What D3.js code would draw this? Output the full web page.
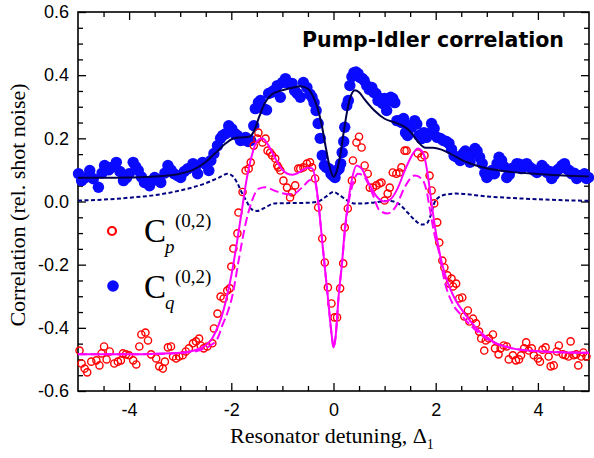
<!DOCTYPE html>
<html>
<head>
<meta charset="utf-8">
<script src="https://cdn.jsdelivr.net/npm/d3@7"></script>
<style>
  body { margin: 0; background: #fff; }
</style>
</head>
<body>
<div id="chart"></div>
<script>
var margin = { top: 12, right: 5, bottom: 67, left: 78 };
var width = 594 - margin.left - margin.right;
var height = 458 - margin.top - margin.bottom;

var xTicks = [-4, -2, 0, 2, 4];
var xTickLabels = ['-4', '-2', '0', '2', '4'];
var yTicks = [-0.6, -0.4, -0.2, 0, 0.2, 0.4, 0.6];
var yTickLabels = ['-0.6', '-0.4', '-0.2', '0.0', '0.2', '0.4', '0.6'];

// C_q^(0,2) measured points [detuning, correlation]
var cqPoints = [
  [-4.99, 0.088], [-4.93, 0.066], [-4.86, 0.075], [-4.77, 0.098], [-4.70, 0.072], [-4.60, 0.045],
  [-4.53, 0.090], [-4.48, 0.114], [-4.40, 0.100], [-4.35, 0.108], [-4.25, 0.124], [-4.18, 0.095],
  [-4.11, 0.066], [-4.05, 0.075], [-4.00, 0.088], [-3.92, 0.124], [-3.87, 0.110], [-3.82, 0.098],
  [-3.76, 0.078], [-3.70, 0.060], [-3.60, 0.050], [-3.55, 0.065], [-3.50, 0.076], [-3.44, 0.070],
  [-3.38, 0.060], [-3.30, 0.090], [-3.24, 0.114], [-3.18, 0.100], [-3.12, 0.088], [-3.05, 0.082],
  [-2.99, 0.076], [-2.92, 0.095], [-2.85, 0.104], [-2.75, 0.120], [-2.70, 0.110], [-2.66, 0.088],
  [-2.56, 0.124], [-2.50, 0.118], [-2.44, 0.098], [-2.40, 0.130], [-2.34, 0.152], [-2.27, 0.177],
  [-2.21, 0.200], [-2.17, 0.209], [-2.11, 0.215], [-2.05, 0.240], [-1.99, 0.230], [-1.93, 0.215],
  [-1.88, 0.209], [-1.82, 0.193], [-1.76, 0.195], [-1.72, 0.203], [-1.67, 0.190], [-1.62, 0.193],
  [-1.56, 0.240], [-1.53, 0.294], [-1.47, 0.313], [-1.43, 0.320], [-1.37, 0.294], [-1.31, 0.290],
  [-1.27, 0.342], [-1.22, 0.345], [-1.17, 0.351], [-1.10, 0.367], [-1.04, 0.330], [-1.00, 0.377],
  [-0.94, 0.389], [-0.88, 0.374], [-0.81, 0.374], [-0.76, 0.351], [-0.71, 0.342], [-0.65, 0.330],
  [-0.59, 0.377], [-0.52, 0.361], [-0.46, 0.340], [-0.42, 0.330], [-0.38, 0.313], [-0.34, 0.288],
  [-0.30, 0.247], [-0.26, 0.200], [-0.22, 0.146], [-0.18, 0.114], [-0.14, 0.108], [-0.09, 0.104],
  [-0.05, 0.088], [-0.01, 0.082], [0.03, 0.076], [0.07, 0.098], [0.11, 0.104], [0.14, 0.120],
  [0.17, 0.155], [0.20, 0.190], [0.22, 0.235], [0.26, 0.304], [0.29, 0.320], [0.32, 0.367],
  [0.36, 0.395], [0.40, 0.408], [0.44, 0.410], [0.48, 0.405], [0.52, 0.393], [0.56, 0.390],
  [0.60, 0.383], [0.65, 0.367], [0.70, 0.355], [0.75, 0.361], [0.79, 0.345], [0.83, 0.342],
  [0.87, 0.320], [0.91, 0.326], [0.96, 0.310], [1.00, 0.326], [1.04, 0.288], [1.08, 0.320],
  [1.12, 0.330], [1.16, 0.326], [1.20, 0.313], [1.24, 0.256], [1.29, 0.256], [1.33, 0.250],
  [1.37, 0.263], [1.41, 0.218], [1.45, 0.209], [1.49, 0.240], [1.53, 0.235], [1.59, 0.256],
  [1.63, 0.245], [1.67, 0.209], [1.72, 0.199], [1.77, 0.218], [1.82, 0.203], [1.87, 0.215],
  [1.92, 0.247], [1.97, 0.231], [2.03, 0.203], [2.09, 0.200], [2.15, 0.193], [2.21, 0.190],
  [2.26, 0.184], [2.31, 0.165], [2.36, 0.145], [2.42, 0.140], [2.48, 0.130], [2.54, 0.152],
  [2.58, 0.160], [2.63, 0.140], [2.67, 0.124], [2.72, 0.152], [2.77, 0.168], [2.81, 0.160],
  [2.86, 0.140], [2.91, 0.120], [2.96, 0.090], [3.00, 0.076], [3.05, 0.085], [3.10, 0.098],
  [3.15, 0.088], [3.20, 0.120], [3.24, 0.140], [3.29, 0.130], [3.34, 0.110], [3.39, 0.076],
  [3.44, 0.085], [3.49, 0.104], [3.54, 0.108], [3.59, 0.120], [3.64, 0.118], [3.68, 0.104],
  [3.73, 0.115], [3.78, 0.120], [3.83, 0.110], [3.88, 0.104], [3.93, 0.098], [3.98, 0.092],
  [4.03, 0.100], [4.08, 0.114], [4.13, 0.105], [4.18, 0.092], [4.23, 0.095], [4.27, 0.073],
  [4.32, 0.085], [4.37, 0.098], [4.42, 0.104], [4.47, 0.114], [4.52, 0.120], [4.56, 0.104],
  [4.61, 0.098], [4.66, 0.088], [4.71, 0.090], [4.76, 0.073], [4.81, 0.082], [4.86, 0.082],
  [4.91, 0.088], [4.95, 0.073], [4.99, 0.076]
];

// C_p^(0,2) measured points
var cpPoints = [
  [-4.97, -0.472], [-4.93, -0.513], [-4.87, -0.529], [-4.82, -0.541], [-4.74, -0.507], [-4.64, -0.503],
  [-4.58, -0.519], [-4.54, -0.481], [-4.49, -0.459], [-4.44, -0.500], [-4.38, -0.475], [-4.29, -0.513],
  [-4.22, -0.507], [-4.16, -0.503], [-4.12, -0.481], [-4.06, -0.484], [-4.00, -0.487], [-3.92, -0.503],
  [-3.86, -0.516], [-3.80, -0.459], [-3.76, -0.421], [-3.68, -0.415], [-3.63, -0.440], [-3.57, -0.484],
  [-3.47, -0.497], [-3.41, -0.522], [-3.34, -0.529], [-3.30, -0.507], [-3.24, -0.462], [-3.18, -0.459],
  [-3.14, -0.491], [-3.08, -0.497], [-3.02, -0.491], [-2.95, -0.487], [-2.89, -0.475], [-2.83, -0.465],
  [-2.75, -0.449], [-2.69, -0.443], [-2.63, -0.434], [-2.60, -0.456], [-2.54, -0.465], [-2.47, -0.459],
  [-2.37, -0.449], [-2.34, -0.402], [-2.27, -0.355], [-2.21, -0.301], [-2.15, -0.307], [-2.08, -0.282],
  [-2.03, -0.275], [-2.00, -0.206], [-1.96, -0.149], [-1.88, -0.101], [-1.86, -0.035], [-1.78, 0.030],
  [-1.72, 0.098], [-1.66, 0.104], [-1.62, 0.124], [-1.56, 0.177], [-1.49, 0.199], [-1.47, 0.218],
  [-1.39, 0.187], [-1.33, 0.199], [-1.29, 0.161], [-1.24, 0.155], [-1.20, 0.146], [-1.14, 0.136],
  [-1.10, 0.114], [-1.08, 0.108], [-1.04, 0.098], [-0.98, 0.066], [-0.91, 0.044], [-0.85, 0.013],
  [-0.81, 0.029], [-0.75, 0.051], [-0.69, 0.104], [-0.65, 0.104], [-0.59, 0.108], [-0.52, 0.120],
  [-0.46, 0.124], [-0.42, 0.108], [-0.36, 0.073], [-0.30, -0.019], [-0.22, -0.117], [-0.17, -0.193],
  [-0.11, -0.272], [-0.04, -0.323], [0.02, -0.367], [0.07, -0.367], [0.13, -0.275], [0.19, -0.196],
  [0.22, -0.082], [0.28, -0.022], [0.36, 0.066], [0.38, 0.130], [0.45, 0.187], [0.50, 0.205],
  [0.55, 0.171], [0.61, 0.114], [0.67, 0.088], [0.71, 0.044], [0.77, 0.044], [0.84, 0.051],
  [0.90, 0.057], [0.94, 0.060], [1.00, 0.003], [1.06, 0.025], [1.10, 0.044], [1.16, 0.092],
  [1.23, 0.088], [1.29, 0.092], [1.33, 0.108], [1.39, 0.161], [1.43, 0.161], [1.65, 0.152],
  [1.72, 0.140], [1.78, 0.146], [1.88, 0.082], [1.92, 0.035], [1.97, -0.006], [2.03, -0.066],
  [2.07, -0.130], [2.13, -0.187], [2.17, -0.209], [2.23, -0.234], [2.27, -0.260], [2.31, -0.244],
  [2.34, -0.269], [2.40, -0.260], [2.46, -0.307], [2.52, -0.304], [2.56, -0.364], [2.63, -0.345],
  [2.66, -0.380], [2.73, -0.371], [2.79, -0.386], [2.85, -0.412], [2.89, -0.434], [2.95, -0.472],
  [2.98, -0.440], [3.04, -0.434], [3.12, -0.421], [3.16, -0.465], [3.23, -0.484], [3.27, -0.465],
  [3.33, -0.456], [3.39, -0.459], [3.43, -0.500], [3.51, -0.487], [3.57, -0.503], [3.63, -0.500],
  [3.67, -0.487], [3.73, -0.465], [3.77, -0.446], [3.82, -0.472], [3.88, -0.465], [3.92, -0.487],
  [4.00, -0.497], [4.04, -0.507], [4.09, -0.469], [4.15, -0.462], [4.21, -0.491], [4.25, -0.522],
  [4.31, -0.519], [4.37, -0.475], [4.41, -0.456], [4.49, -0.484], [4.54, -0.487], [4.60, -0.491],
  [4.64, -0.443], [4.70, -0.487], [4.75, -0.484], [4.79, -0.519], [4.85, -0.491], [4.89, -0.478],
  [4.95, -0.491]
];

// theory curves
var cqFit = [
  [-5, 0.075], [-4.5, 0.075], [-4, 0.076], [-3.5, 0.079], [-3, 0.088], [-2.75, 0.100], [-2.5, 0.125],
  [-2.3, 0.155], [-2.1, 0.185], [-1.95, 0.200], [-1.8, 0.203], [-1.65, 0.205], [-1.55, 0.225],
  [-1.45, 0.270], [-1.35, 0.310], [-1.2, 0.340], [-1.0, 0.352], [-0.8, 0.360], [-0.65, 0.365],
  [-0.5, 0.357], [-0.4, 0.333], [-0.32, 0.300], [-0.24, 0.250], [-0.15, 0.170], [-0.06, 0.100],
  [0.0, 0.078], [0.05, 0.090], [0.13, 0.145], [0.2, 0.220], [0.26, 0.280], [0.33, 0.330],
  [0.42, 0.352], [0.5, 0.346], [0.6, 0.325], [0.8, 0.288], [1.0, 0.262], [1.2, 0.250],
  [1.35, 0.240], [1.5, 0.222], [1.65, 0.190], [1.8, 0.170], [1.95, 0.170], [2.1, 0.165],
  [2.3, 0.150], [2.6, 0.125], [3.0, 0.105], [3.5, 0.093], [4.0, 0.087], [4.5, 0.082], [5.0, 0.079]
];
var cqAux = [
  [-5, 0.003], [-4.5, 0.006], [-4, 0.012], [-3.5, 0.020], [-3, 0.035], [-2.5, 0.058], [-2.25, 0.075],
  [-2.07, 0.088], [-1.97, 0.080], [-1.88, 0.058], [-1.8, 0.030], [-1.7, 0.0], [-1.6, -0.025],
  [-1.5, -0.030], [-1.35, -0.020], [-1.15, -0.006], [-0.8, -0.005], [-0.5, -0.004], [-0.3, 0.0],
  [-0.15, 0.015], [0.0, 0.030], [0.12, 0.020], [0.25, 0.005], [0.4, -0.006], [0.6, -0.006],
  [0.8, -0.003], [1.1, 0.002], [1.3, -0.010], [1.45, -0.035], [1.6, -0.060], [1.72, -0.073],
  [1.82, -0.070], [1.9, -0.045], [1.97, -0.006], [2.05, 0.012], [2.2, 0.022], [2.4, 0.025],
  [3.0, 0.016], [3.5, 0.011], [4.0, 0.007], [4.5, 0.004], [5, 0.002]
];
var cpFit = [
  [-5, -0.484], [-4, -0.484], [-3.5, -0.482], [-3, -0.479], [-2.7, -0.470], [-2.5, -0.455],
  [-2.4, -0.440], [-2.3, -0.410], [-2.2, -0.370], [-2.1, -0.310], [-2.0, -0.235], [-1.9, -0.140],
  [-1.8, -0.035], [-1.7, 0.070], [-1.6, 0.145], [-1.5, 0.190], [-1.4, 0.200], [-1.3, 0.185],
  [-1.2, 0.155], [-1.1, 0.125], [-1.0, 0.100], [-0.9, 0.088], [-0.8, 0.085], [-0.7, 0.090],
  [-0.6, 0.100], [-0.5, 0.107], [-0.42, 0.105], [-0.36, 0.075], [-0.3, 0.0], [-0.2, -0.160],
  [-0.1, -0.320], [-0.03, -0.430], [0.0, -0.462], [0.04, -0.430], [0.1, -0.300], [0.17, -0.190],
  [0.22, -0.090], [0.28, -0.010], [0.36, 0.070], [0.45, 0.114], [0.55, 0.104], [0.7, 0.055],
  [0.85, 0.015], [1.0, 0.0], [1.1, 0.005], [1.25, 0.040], [1.4, 0.100], [1.55, 0.150],
  [1.65, 0.168], [1.75, 0.155], [1.84, 0.090], [1.92, -0.006], [2.0, -0.095], [2.1, -0.180],
  [2.2, -0.240], [2.35, -0.300], [2.6, -0.362], [2.85, -0.410], [3.2, -0.450], [3.5, -0.465],
  [4.0, -0.474], [4.5, -0.478], [5.0, -0.479]
];
var cpAux = [
  [-5, -0.484], [-4, -0.484], [-3, -0.480], [-2.6, -0.470], [-2.4, -0.455], [-2.27, -0.434],
  [-2.17, -0.390], [-2.07, -0.350], [-1.97, -0.292], [-1.86, -0.190], [-1.72, -0.070], [-1.6, 0.0],
  [-1.47, 0.040], [-1.33, 0.045], [-1.18, 0.036], [-1.0, 0.026], [-0.81, 0.022], [-0.61, 0.045],
  [-0.45, 0.068], [-0.36, 0.060], [-0.3, 0.0], [-0.2, -0.160], [-0.1, -0.320], [-0.03, -0.430],
  [0.0, -0.462], [0.04, -0.430], [0.1, -0.300], [0.17, -0.190], [0.22, -0.100], [0.3, 0.0],
  [0.38, 0.057], [0.48, 0.088], [0.58, 0.082], [0.75, 0.030], [0.9, -0.028], [1.06, -0.038],
  [1.23, -0.013], [1.39, 0.044], [1.59, 0.082], [1.72, 0.073], [1.82, 0.035], [1.88, -0.019],
  [1.97, -0.100], [2.07, -0.165], [2.17, -0.250], [2.33, -0.323], [2.5, -0.360], [2.7, -0.395],
  [3.0, -0.435], [3.5, -0.465], [4, -0.474], [5, -0.479]
];

var svg = d3.select('#chart')
  .append('svg')
    .attr('width', width + margin.left + margin.right)
    .attr('height', height + margin.top + margin.bottom)
  .append('g')
    .attr('transform', `translate(${margin.left}, ${margin.top})`);

var xScale = d3.scaleLinear().domain([-5, 5]).range([0, width]);
var yScale = d3.scaleLinear().domain([-0.6, 0.6]).range([height, 0]);

var isMajorX = v => xTicks.some(t => Math.abs(t - v) < 1e-6);
var isMajorY = v => yTicks.some(t => Math.abs(t - v) < 1e-6);
var xMinor = d3.range(-4.5, 5, 0.5).filter(v => !isMajorX(v));
var yMinor = d3.range(-0.55, 0.6, 0.05).filter(v => !isMajorY(v));

function addAxis (axis, transform) {
  var g = svg.append('g').attr('transform', transform).call(axis);
  g.select('.domain').remove();
  g.selectAll('line').attr('stroke', '#000').attr('stroke-width', 1.3);
  g.selectAll('text')
    .attr('font-family', '"Liberation Sans", Arial, sans-serif')
    .attr('font-size', 18)
    .attr('fill', '#000');
  return g;
}

// bottom / left with labels, top / right ticks only, all pointing inward
addAxis(d3.axisBottom(xScale).tickValues(xTicks).tickSizeInner(-8).tickSizeOuter(0).tickPadding(12)
  .tickFormat((d, i) => xTickLabels[i]), `translate(0, ${height})`);
addAxis(d3.axisBottom(xScale).tickValues(xMinor).tickSizeInner(-5).tickSizeOuter(0).tickFormat(''),
  `translate(0, ${height})`);
addAxis(d3.axisTop(xScale).tickValues(xTicks).tickSizeInner(-8).tickSizeOuter(0).tickFormat(''), 'translate(0, 0)');
addAxis(d3.axisTop(xScale).tickValues(xMinor).tickSizeInner(-5).tickSizeOuter(0).tickFormat(''), 'translate(0, 0)');

addAxis(d3.axisLeft(yScale).tickValues(yTicks).tickSizeInner(-8).tickSizeOuter(0).tickPadding(9)
  .tickFormat((d, i) => yTickLabels[i]), 'translate(0, 0)');
addAxis(d3.axisLeft(yScale).tickValues(yMinor).tickSizeInner(-5).tickSizeOuter(0).tickFormat(''), 'translate(0, 0)');
addAxis(d3.axisRight(yScale).tickValues(yTicks).tickSizeInner(-8).tickSizeOuter(0).tickFormat(''), `translate(${width}, 0)`);
addAxis(d3.axisRight(yScale).tickValues(yMinor).tickSizeInner(-5).tickSizeOuter(0).tickFormat(''), `translate(${width}, 0)`);

svg.append('rect')
  .attr('width', width)
  .attr('height', height)
  .attr('fill', 'none')
  .attr('stroke', '#000')
  .attr('stroke-width', 1.6);

var line = d3.line()
  .x(d => xScale(d[0]))
  .y(d => yScale(d[1]))
  .curve(d3.curveMonotoneX);

// blue filled dots
svg.append('g')
  .selectAll('circle')
  .data(cqPoints)
  .enter()
    .append('circle')
    .attr('cx', d => xScale(d[0]))
    .attr('cy', d => yScale(d[1]))
    .attr('r', 5.7)
    .attr('fill', '#0a0aff');

// red open circles
svg.append('g')
  .selectAll('circle')
  .data(cpPoints)
  .enter()
    .append('circle')
    .attr('cx', d => xScale(d[0]))
    .attr('cy', d => yScale(d[1]))
    .attr('r', 3.6)
    .attr('fill', 'none')
    .attr('stroke', '#ff0000')
    .attr('stroke-width', 1.4);

var curves = [
  { data: cqFit, color: '#00004a', dash: null },
  { data: cqAux, color: '#000080', dash: '4,2.5' },
  { data: cpFit, color: '#ff00ff', dash: null },
  { data: cpAux, color: '#ff00ff', dash: '9,4' }
];

curves.forEach(function (c) {
  svg.append('path')
    .datum(c.data)
    .attr('fill', 'none')
    .attr('stroke', c.color)
    .attr('stroke-width', 2)
    .attr('stroke-dasharray', c.dash)
    .attr('d', line);
});

// title inside the frame
svg.append('text')
  .attr('x', 302 - margin.left)
  .attr('y', 47 - margin.top)
  .attr('textLength', 262)
  .attr('lengthAdjust', 'spacingAndGlyphs')
  .attr('font-family', '"DejaVu Sans", sans-serif')
  .attr('font-weight', 'bold')
  .attr('font-size', 21)
  .text('Pump-Idler correlation');

// legend
var serif = '"Liberation Serif", "Times New Roman", serif';
var legend = svg.append('g').attr('transform', `translate(${-margin.left}, ${-margin.top})`);

legend.append('circle')
  .attr('cx', 112).attr('cy', 231).attr('r', 4)
  .attr('fill', 'none').attr('stroke', '#ff0000').attr('stroke-width', 2.2);
legend.append('circle')
  .attr('cx', 113).attr('cy', 286).attr('r', 5.8)
  .attr('fill', '#0a0aff');

[{ sub: 'p', y: 242 }, { sub: 'q', y: 298 }].forEach(function (e) {
  legend.append('text')
    .attr('x', 144).attr('y', e.y)
    .attr('font-family', serif).attr('font-size', 33)
    .text('C');
  legend.append('text')
    .attr('x', 165).attr('y', e.y + 11)
    .attr('font-family', serif).attr('font-size', 19).attr('font-style', 'italic')
    .text(e.sub);
  legend.append('text')
    .attr('x', 175).attr('y', e.y - 15)
    .attr('font-family', serif).attr('font-size', 19)
    .text('(0,2)');
});

// axis titles
var xTitle = svg.append('text')
  .attr('x', 230 - margin.left)
  .attr('y', 443 - margin.top)
  .attr('font-family', serif)
  .attr('font-size', 22)
  .text('Resonator detuning, Δ');
xTitle.append('tspan')
  .attr('dy', 6)
  .attr('font-size', 14)
  .text('1');

svg.append('text')
  .attr('transform', `translate(${25 - margin.left}, ${205 - margin.top}) rotate(-90)`)
  .attr('text-anchor', 'middle')
  .attr('font-family', serif)
  .attr('font-size', 22)
  .text('Correlation (rel. shot noise)');
</script>
</body>
</html>
